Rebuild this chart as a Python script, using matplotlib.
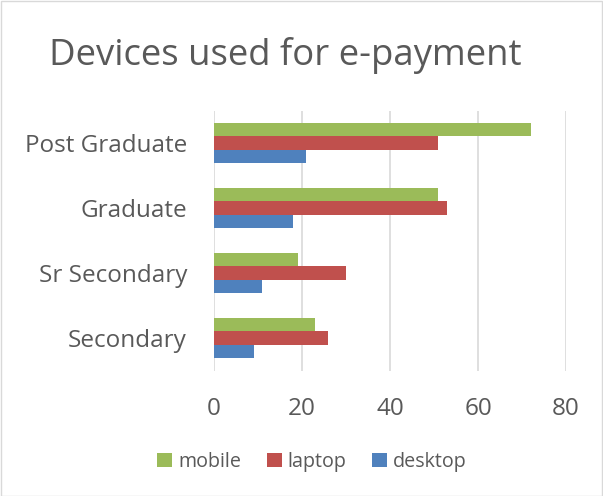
import matplotlib
matplotlib.use("Agg")
import matplotlib.pyplot as plt
import numpy as np
from matplotlib.patches import Rectangle

categories = ["Secondary", "Sr Secondary", "Graduate", "Post Graduate"]
mobile = [23, 19, 51, 72]
laptop = [26, 30, 53, 51]
desktop = [9, 11, 18, 21]
series_names = ["mobile", "laptop", "desktop"]
colors = ["#9BBB59", "#C0504D", "#4F81BD"]
xticks = [0, 20, 40, 60, 80]

plt.rcParams['font.family'] = ['Open Sans', 'DejaVu Sans']
txt = "#595959"

fig = plt.figure(figsize=(6.03, 4.96), dpi=100)
W, H = 603, 496
ax = fig.add_axes([214 / W, 1 - 370.5 / H, (566 - 214) / W, 260 / H])

y = np.arange(len(categories))
h = 0.205
for i, (vals, c, name) in enumerate(zip([mobile, laptop, desktop], colors, series_names)):
    offs = (1 - i) * h
    ax.barh(y + offs, vals, height=h, color=c, label=name, zorder=3)

ax.set_xlim(0, 80)
ax.set_ylim(-0.5, 3.5)
ax.set_xticks(xticks)
ax.set_xticklabels([str(t) for t in xticks])
ax.set_yticks(y)
ax.set_yticklabels(categories)
ax.tick_params(axis='both', length=0, labelsize=17.5, colors=txt)
ax.tick_params(axis='x', pad=19)
ax.tick_params(axis='y', pad=19.5)
ax.grid(axis='x', color="#D9D9D9", linewidth=1.2, zorder=0)
for s in ax.spines.values():
    s.set_visible(False)

fig.text(285 / W, 1 - 55 / H, "Devices used for e-payment", ha='center', va='center',
         fontsize=26.3, color=txt)

handles, labels = ax.get_legend_handles_labels()
leg = fig.legend(handles, labels, loc='center', bbox_to_anchor=(312 / W, 1 - 462 / H),
                 ncol=3, frameon=False, fontsize=14.2, handlelength=0.75, handleheight=0.75,
                 handletextpad=0.3, columnspacing=1.3, labelcolor=txt)

fig.patches.append(Rectangle((0.5 / W, 0.5 / H), 1 - 1.5 / W, 1 - 1.5 / H, transform=fig.transFigure,
                             fill=False, edgecolor="#D9D9D9", linewidth=1))

fig.savefig("out.png", dpi=100)
